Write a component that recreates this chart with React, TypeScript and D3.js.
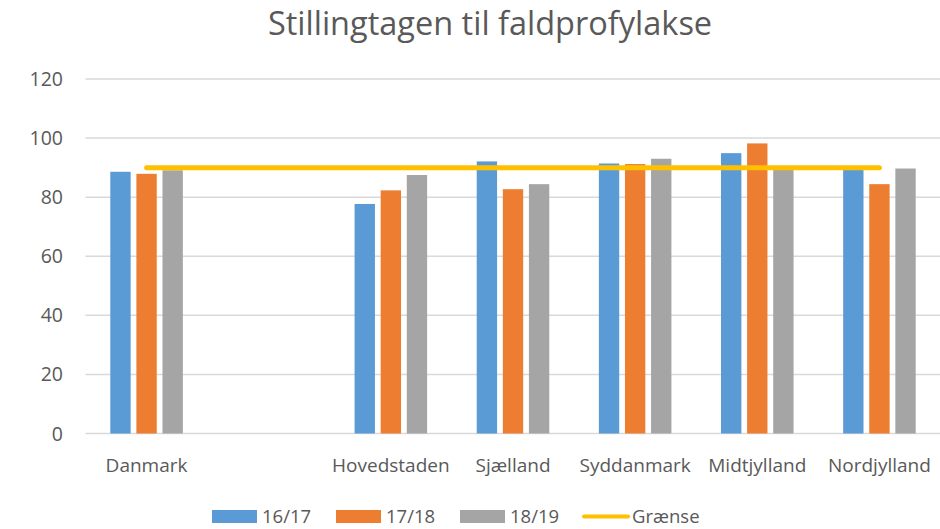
import React from "react";
import * as d3 from "d3";

const categories = ["Danmark", "", "Hovedstaden", "Sjælland", "Syddanmark", "Midtjylland", "Nordjylland"];
const seriesNames = ["16/17", "17/18", "18/19"];
const values1617 = [88.6, null, 77.7, 92.1, 91.4, 94.9, 89.2];
const values1718 = [87.9, null, 82.3, 82.7, 91.2, 98.2, 84.4];
const values1819 = [89.1, null, 87.5, 84.4, 93.0, 89.6, 89.7];
const graense = [90, 90, 90, 90, 90, 90, 90];
const yTicks = [0, 20, 40, 60, 80, 100, 120];

const colors = ["#5B9BD5", "#ED7D31", "#A5A5A5"];
const lineColor = "#FFC000";
const textColor = "#595959";
const font = "'Open Sans', sans-serif";

const W = 940;
const H = 529;
const left = 85.5;
const right = 940.5;
const top = 79;
const bottom = 433.5;

export default function App() {
    const x = d3.scaleBand<string>()
        .domain(categories.map((c, i) => String(i)))
        .range([left, right])
        .padding(0);

    const inner = d3.scaleBand<string>()
        .domain(seriesNames)
        .range([0, x.bandwidth()])
        .paddingInner(0.22)
        .paddingOuter(0.95);

    const y = d3.scaleLinear().domain([0, 120]).range([bottom, top]);

    const allSeries = [values1617, values1718, values1819];

    const line = d3.line<number>()
        .x((d, i) => (x(String(i)) as number) + x.bandwidth() / 2)
        .y((d) => y(d));

    // legend items
    const legend = [
        { x: 212, label: "16/17", kind: "bar", color: colors[0] },
        { x: 336, label: "17/18", kind: "bar", color: colors[1] },
        { x: 460, label: "18/19", kind: "bar", color: colors[2] },
        { x: 582, label: "Grænse", kind: "line", color: lineColor },
    ];

    return (
        <svg width={W} height={H} style={{ position: "absolute", left: 0, top: 0 }}>
            <rect width={W} height={H} fill="#ffffff" />
            <text x={490} y={35} textAnchor="middle" fontFamily={font} fontSize={32.5} fill={textColor}>
                Stillingtagen til faldprofylakse
            </text>
            {yTicks.map((t) => (
                <g key={t}>
                    <line x1={left} x2={right} y1={y(t)} y2={y(t)} stroke="#D9D9D9" strokeWidth={1.5} />
                    <text x={63} y={y(t)} dy="0.36em" textAnchor="end" fontFamily={font} fontSize={19.5} fill={textColor}>
                        {t}
                    </text>
                </g>
            ))}
            {allSeries.map((vals, s) => (
                <g key={s}>
                    {vals.map((v, i) =>
                        v == null ? null : (
                            <rect
                                key={i}
                                x={(x(String(i)) as number) + (inner(seriesNames[s]) as number)}
                                y={y(v)}
                                width={inner.bandwidth()}
                                height={bottom - y(v)}
                                fill={colors[s]}
                            />
                        )
                    )}
                </g>
            ))}
            <path d={line(graense) || ""} fill="none" stroke={lineColor} strokeWidth={5} strokeLinecap="round" />
            {categories.map((c, i) => (
                <text
                    key={i}
                    x={(x(String(i)) as number) + x.bandwidth() / 2}
                    y={472}
                    textAnchor="middle"
                    fontFamily={font}
                    fontSize={19}
                    fill={textColor}
                >
                    {c}
                </text>
            ))}
            {legend.map((l) => (
                <g key={l.label}>
                    {l.kind === "bar" ? (
                        <rect x={l.x} y={510} width={45} height={13} fill={l.color} />
                    ) : (
                        <line x1={l.x + 2} x2={l.x + 46} y1={516.5} y2={516.5} stroke={l.color} strokeWidth={4} strokeLinecap="round" />
                    )}
                    <text x={l.x + 50} y={516.5} dy="0.36em" fontFamily={font} fontSize={18.5} fill={textColor}>
                        {l.label}
                    </text>
                </g>
            ))}
        </svg>
    );
}
